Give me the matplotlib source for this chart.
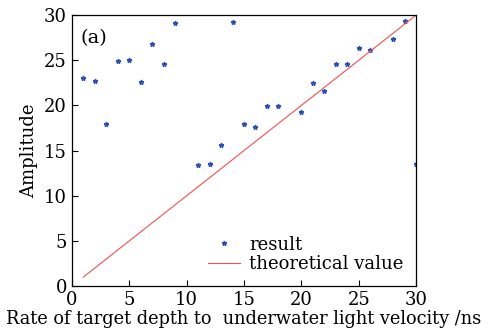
import matplotlib
matplotlib.use("Agg")
import matplotlib.pyplot as plt
import numpy as np

# measured amplitude per depth/velocity ratio
ratio = [1, 2, 3, 4, 5, 6, 7, 8, 9, 11, 12, 13, 14, 15, 16, 17, 18,
         20, 21, 22, 23, 24, 25, 26, 28, 29, 30]
amplitude = [23.0, 22.7, 17.9, 24.9, 25.0, 22.6, 26.8, 24.6, 29.1, 13.4,
             13.5, 15.6, 29.2, 17.9, 17.6, 19.9, 19.9, 19.3, 22.5, 21.6,
             24.6, 24.6, 26.4, 26.1, 27.3, 29.3, 13.5]

# theoretical line
theory_x = [1, 30]
theory_y = [1, 30]

plt.rcParams["font.family"] = ["DejaVu Serif"]

fig = plt.figure(figsize=(4.89, 3.35), dpi=100)
ax = fig.add_axes([0.147, 0.146, 0.704, 0.809])

ax.plot(ratio, amplitude, linestyle="none", marker="*", markersize=3.5,
        color="#2b4fb5", label="result")
ax.plot(theory_x, theory_y, color="#f05050", linewidth=0.8, label="theoretical value")

ax.set_xlim(0, 30)
ax.set_ylim(0, 30)
ax.set_xticks(np.arange(0, 31, 5))
ax.set_yticks(np.arange(0, 31, 5))
ax.tick_params(direction="in", labelsize=13, length=4, width=0.8)
for s in ax.spines.values():
    s.set_linewidth(0.9)

ax.set_xlabel("Rate of target depth to  underwater light velocity /ns", fontsize=12.8, labelpad=1)
ax.set_ylabel("Amplitude", fontsize=13, labelpad=4)
ax.text(0.025, 0.95, "(a)", transform=ax.transAxes, fontsize=14, va="top")

ax.legend(loc="lower right", frameon=False, fontsize=13, handlelength=1.8,
          handletextpad=0.5, borderaxespad=0.3, labelspacing=0.1,
          bbox_to_anchor=(1.0, 0.0))

plt.savefig("out.png", dpi=100)
